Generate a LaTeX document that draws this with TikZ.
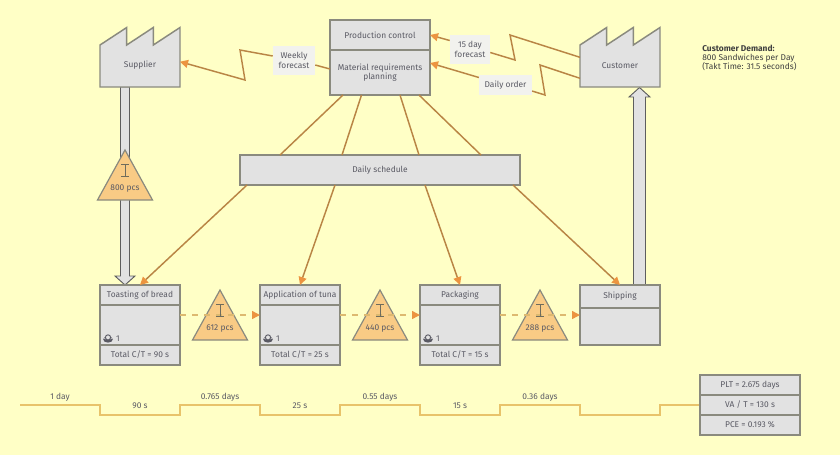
\documentclass[tikz,border=0pt]{standalone}
\usepackage{fontspec}
\setmainfont{Fira Sans}
\usetikzlibrary{arrows.meta}
\definecolor{bgc}{HTML}{FFFFC6}
\definecolor{boxf}{HTML}{E2E2E2}
\definecolor{boxs}{HTML}{8A8A7E}
\definecolor{txt}{HTML}{5A5A64}
\definecolor{lblf}{HTML}{F2F2EE}
\definecolor{signal}{HTML}{B98545}
\definecolor{tipc}{HTML}{EC9440}
\definecolor{invf}{HTML}{F9CB85}
\definecolor{invm}{HTML}{6F6C5C}
\definecolor{tml}{HTML}{E8C36A}
\definecolor{dashc}{HTML}{DDB970}
\definecolor{pushs}{HTML}{5E5E5E}
\tikzset{
  x=0.75pt,y=-0.75pt,
  every node/.style={font=\fontsize{6.3pt}{7pt}\selectfont,text=txt,align=center,inner sep=0pt},
  boxpart/.style={draw=boxs,fill=boxf,line width=1.1pt,minimum width=#1*0.75pt,anchor=center},
  siglbl/.style={fill=lblf},
  sigline/.style={draw=signal,line width=1.1pt},
  sigarrow/.style={sigline,-{Triangle[length=6pt,width=6pt,fill=tipc,color=tipc]}},
  factory/.style={draw=boxs,fill=boxf,line width=1.1pt},
  inv/.style={draw=boxs,fill=invf,line width=0.9pt},
  bigarrow/.style={draw=pushs,fill=boxf,line width=0.7pt},
  dashline/.style={draw=dashc,line width=1.1pt,dash pattern=on 4.5pt off 4.5pt},
  tipdash/.style={-{Triangle[length=6pt,width=6pt,fill=tipc,color=tipc]}},
  timeline/.style={draw=tml,line width=1.1pt},
}
\newcommand{\inventory}[4]{% cx, apex y, name, label
  \path[inv] (#1,#2) -- (#1+27.5,#2+50) -- (#1-27.5,#2+50) -- cycle;
  \coordinate (#3) at (#1,#2+25);
}
\newcommand{\invmark}[4]{%
  \draw[draw=invm,line width=0.75pt] (#1-4,#2+14) -- (#1+4,#2+14) (#1,#2+14) -- (#1,#2+26) (#1-4,#2+26) -- (#1+4,#2+26);
  \node (#3) at (#1,#2+39) {#4};
}
\newcommand{\operatoricon}[2]{%
  \fill[txt] (#1,#2+4.4) ellipse [x radius=4.8,y radius=3.2];
  \fill[boxf] (#1,#2+3.2) ellipse [x radius=4,y radius=1.4];
  \draw[txt,line width=0.7pt,fill=boxf] (#1,#2+2.4) circle [radius=2.6];
}
\begin{document}
\begin{tikzpicture}
\useasboundingbox (0,0) rectangle (840,455);
\fill[bgc] (0,0) rectangle (840,455);

% push arrows
\path[bigarrow] (120.5,87) -- (129.5,87) -- (129.5,276) -- (135,276) -- (125,285) -- (115,276) -- (120.5,276) -- cycle;
\path[bigarrow] (633.5,285) -- (645.5,285) -- (645.5,97) -- (650,97) -- (639.5,87.5) -- (629,97) -- (633.5,97) -- cycle;

% factories
\path[factory] (100,87) -- (100,45) -- (126.7,27.5) -- (126.7,45) -- (153.3,27.5) -- (153.3,45) -- (180,27.5) -- (180,87) -- cycle;
\path[factory] (580,87) -- (580,45) -- (606.7,27.5) -- (606.7,45) -- (633.3,27.5) -- (633.3,45) -- (660,27.5) -- (660,87) -- cycle;
\node (supplier) at (140,65.5) {Supplier};
\node (customer) at (620,65.5) {Customer};

% control box
\node[boxpart=100,minimum height=22.5pt] (pc) at (380,35) {Production control};
\node[boxpart=100,minimum height=33.75pt] (mrp) at (380,72.5) {Material requirements\\planning};
\node[boxpart=280,minimum height=22.5pt] (sched) at (380,170) {Daily schedule};

% signal labels
\node[siglbl,minimum width=31.5pt,minimum height=21.75pt] (wf) at (294,60.5) {Weekly\\forecast};
\node[siglbl,minimum width=30pt,minimum height=21.75pt] (fc) at (470,49.5) {15 day\\forecast};
\node[siglbl,minimum width=39.5pt,minimum height=15pt] (dord) at (505.5,85) {Daily order};

% process boxes
\node[boxpart=80,minimum height=15pt] (t1) at (140,295) {Toasting of bread};
\node[boxpart=80,minimum height=30pt] (t2) at (140,325) {};
\node[boxpart=80,minimum height=15pt] (t3) at (140,355) {Total C/T = 90 s};
\node[boxpart=80,minimum height=15pt] (a1) at (300,295) {Application of tuna};
\node[boxpart=80,minimum height=30pt] (a2) at (300,325) {};
\node[boxpart=80,minimum height=15pt] (a3) at (300,355) {Total C/T = 25 s};
\node[boxpart=80,minimum height=15pt] (p1) at (460,295) {Packaging};
\node[boxpart=80,minimum height=30pt] (p2) at (460,325) {};
\node[boxpart=80,minimum height=15pt] (p3) at (460,355) {Total C/T = 15 s};
\node[boxpart=80,minimum height=17.25pt] (s1) at (620,296.5) {Shipping};
\node[boxpart=80,minimum height=27.75pt] (s2) at (620,326.5) {};

% control lines
\coordinate (m1) at (343,95); \coordinate (m2) at (361.5,95); \coordinate (m3) at (400,95); \coordinate (m4) at (419,95);
\coordinate (d1) at (280,155); \coordinate (d2) at (342,155); \coordinate (d3) at (419,155); \coordinate (d4) at (481,155);
\draw[sigline] (m1) -- (d1); \draw[sigline] (m2) -- (d2); \draw[sigline] (m3) -- (d3); \draw[sigline] (m4) -- (d4);
\coordinate (e1) at (247,185); \coordinate (e2) at (335,185); \coordinate (e3) at (425,185); \coordinate (e4) at (513,185);
\coordinate (t1top) at (140,285); \coordinate (a1top) at (300,285); \coordinate (p1top) at (460,285); \coordinate (s1top) at (620,285);
\draw[sigarrow] (e1) -- (t1top);
\draw[sigarrow] (e2) -- (a1top);
\draw[sigarrow] (e3) -- (p1top);
\draw[sigarrow] (e4) -- (s1top);

% signal zigzags
\coordinate (mw) at (330,69); \coordinate (sup) at (180,61.7);
\draw[sigline] (mw) -- (wf.east |- 0,65);
\draw[sigarrow] (wf.west |- 0,56) -- (240,50) -- (245,80) -- (sup);
\coordinate (cu1) at (580,57.3); \coordinate (cu2) at (580,78.3);
\coordinate (pcr) at (430,35); \coordinate (mrpr) at (430,63);
\draw[sigline] (cu1) -- (510,35) -- (515,60) -- (fc.east |- 0,52.5);
\draw[sigarrow] (fc.west |- 0,40.5) -- (pcr);
\draw[sigline] (cu2) -- (540,65) -- (545,95) -- (dord.east |- 0,91);
\draw[sigarrow] (dord.west |- 0,77.5) -- (mrpr);

% inventories
\inventory{125}{150}{i0}{}
\invmark{125}{150}{i0t}{800 pcs}
\inventory{220}{290}{i1}{}
\inventory{380}{290}{i2}{}
\inventory{540}{290}{i3}{}
\coordinate (t2r) at (180,315); \coordinate (a2l) at (260,315); \coordinate (a2r) at (340,315); \coordinate (p2l) at (420,315); \coordinate (p2r) at (500,315); \coordinate (s2l) at (580,315);
\draw[dashline,tipdash] (t2r) -- (a2l);
\draw[dashline,tipdash] (a2r) -- (p2l);
\draw[dashline,tipdash] (p2r) -- (s2l);
\invmark{220}{290}{i1t}{612 pcs}
\invmark{380}{290}{i2t}{440 pcs}
\invmark{540}{290}{i3t}{288 pcs}

% operators
\operatoricon{108}{335}\node (o1) at (118,339) {1};
\operatoricon{268}{335}\node (o2) at (278,339) {1};
\operatoricon{428}{335}\node (o3) at (438,339) {1};

% timeline
\node[boxpart=100,minimum height=15pt] (pl) at (750,385) {PLT = 2.675 days};
\node[boxpart=100,minimum height=15pt] (vt) at (750,405) {VA / T = 130 s};
\node[boxpart=100,minimum height=15pt] (pce) at (750,425) {PCE = 0.193 \%};
\coordinate (ts) at (20,405);
\draw[timeline] (ts) -- (100,405) -- (100,415) -- (180,415) -- (180,405) -- (260,405) -- (260,415) -- (340,415) -- (340,405) -- (420,405) -- (420,415) -- (500,415) -- (500,405) -- (580,405) -- (580,415) -- (660,415) -- (660,405) -- (vt.west);
\node (l1) at (60,397) {1 day};
\node (l2) at (140,406) {90 s};
\node (l3) at (220,397) {0.765 days};
\node (l4) at (300,406) {25 s};
\node (l5) at (380,397) {0.55 days};
\node (l6) at (460,406) {15 s};
\node (l7) at (540,397) {0.36 days};

% customer demand
\node[anchor=north west,align=left,font=\fontsize{6.3pt}{6.8pt}\selectfont,text=black!75] (demand) at (702,44.5) {\textbf{Customer Demand:}\\800 Sandwiches per Day\\(Takt Time: 31.5 seconds)};
\end{tikzpicture}
\end{document}
